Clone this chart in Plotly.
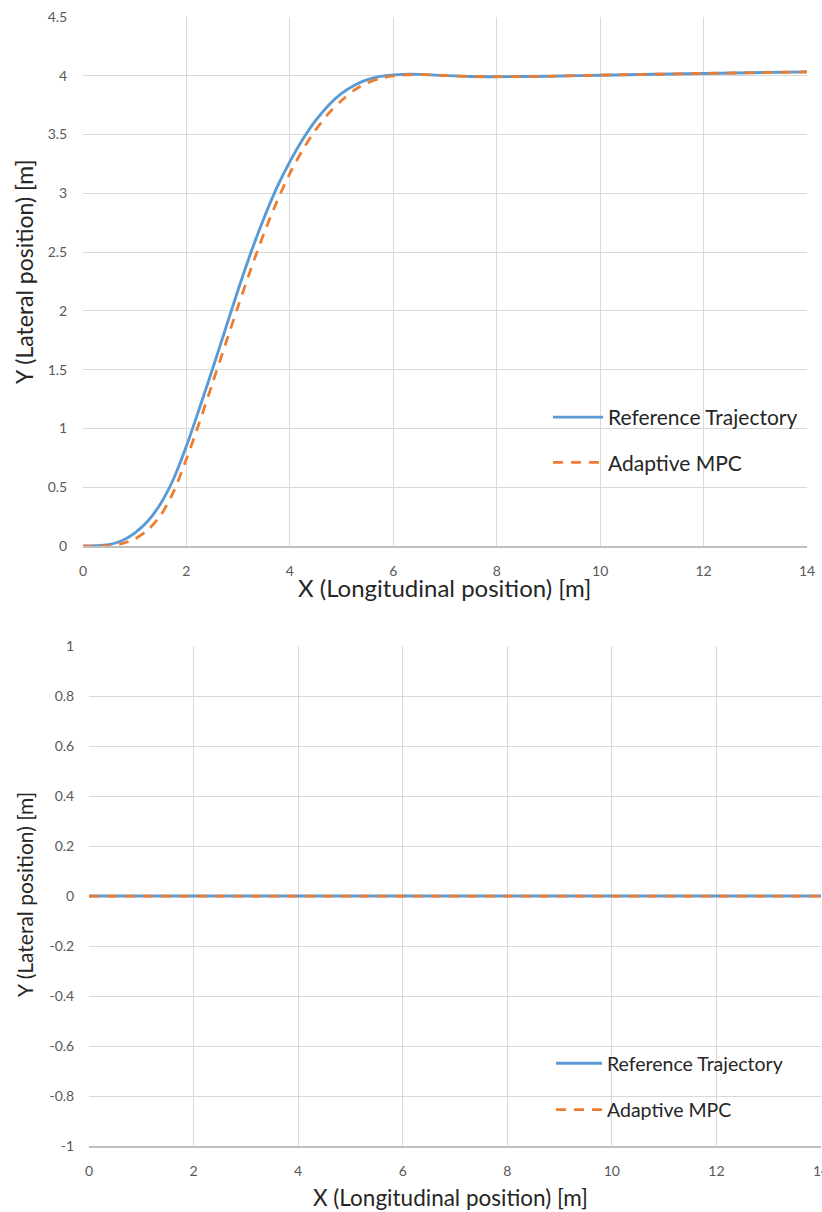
import plotly.graph_objects as go

# ---------------- data ----------------
# Top chart: lane change manoeuvre
x_ref = [0, 0.25, 0.5, 0.75, 1.0, 1.25, 1.5, 1.75, 2.0, 2.25, 2.5, 2.75, 3.0, 3.25,
         3.5, 3.75, 4.0, 4.25, 4.5, 4.75, 5.0, 5.25, 5.5, 5.75, 6.0, 6.5, 7.0, 7.5,
         8.0, 9.0, 10.0, 12.0, 14.0]
y_ref = [0, 0.002, 0.012, 0.045, 0.11, 0.21, 0.36, 0.57, 0.85, 1.17, 1.5, 1.84, 2.18, 2.5,
         2.79, 3.05, 3.27, 3.46, 3.62, 3.75, 3.85, 3.92, 3.967, 3.995, 4.008, 4.012, 4.002, 3.994,
         3.992, 3.996, 4.005, 4.02, 4.033]

x_mpc = [0, 0.25, 0.5, 0.75, 1.0, 1.25, 1.5, 1.75, 2.0, 2.25, 2.5, 2.75, 3.0, 3.25,
         3.5, 3.75, 4.0, 4.25, 4.5, 4.75, 5.0, 5.25, 5.5, 5.75, 6.0, 6.5, 7.0, 7.5,
         8.0, 9.0, 10.0, 12.0, 14.0]
y_mpc = [0, 0.0, 0.004, 0.02, 0.06, 0.135, 0.26, 0.46, 0.74, 1.05, 1.38, 1.71, 2.04, 2.36,
         2.66, 2.93, 3.17, 3.37, 3.54, 3.68, 3.79, 3.88, 3.94, 3.978, 3.998, 4.012, 4.002, 3.994,
         3.992, 3.996, 4.005, 4.02, 4.033]

# Bottom chart: straight driving
x_straight = [0, 2, 4, 6, 8, 10, 12, 14]
y_ref_straight = [0, 0, 0, 0, 0, 0, 0, 0]
y_mpc_straight = [0, 0, 0, 0, 0, 0, 0, 0]

y2_tickvals = [1, 0.8, 0.6, 0.4, 0.2, 0, -0.2, -0.4, -0.6, -0.8, -1]
y2_ticktext = ["1", "0.8", "0.6", "0.4", "0.2", "0", "-0.2", "-0.4", "-0.6", "-0.8", "-1"]

names = ["Reference Trajectory", "Adaptive MPC"]
x_title = "X (Longitudinal position) [m]"
y_title = "Y (Lateral position) [m]"

# ---------------- style ----------------
W, H = 822, 1212
BLUE = "#5B9BD5"
ORANGE = "#ED7D31"
GRID = "#D9D9D9"
TICK = "#595959"
TEXT = "#262626"
FONT = "Lato"
DASH = "10px,8px"

fig = go.Figure()

fig.add_trace(go.Scatter(x=x_ref, y=y_ref, mode="lines", name=names[0],
                         line=dict(color=BLUE, width=2.9, shape="spline", smoothing=0.8),
                         xaxis="x", yaxis="y", legend="legend", legendgroup="a"))
fig.add_trace(go.Scatter(x=x_mpc, y=y_mpc, mode="lines", name=names[1],
                         line=dict(color=ORANGE, width=2.75, dash=DASH, shape="spline", smoothing=0.8),
                         xaxis="x", yaxis="y", legend="legend", legendgroup="b"))
fig.add_trace(go.Scatter(x=x_straight, y=y_ref_straight, mode="lines", name=names[0],
                         line=dict(color=BLUE, width=2.9),
                         xaxis="x2", yaxis="y2", legend="legend2", legendgroup="c"))
fig.add_trace(go.Scatter(x=x_straight, y=y_mpc_straight, mode="lines", name=names[1],
                         line=dict(color=ORANGE, width=2.75, dash=DASH),
                         xaxis="x2", yaxis="y2", legend="legend2", legendgroup="d"))


def px_x(p):
    return p / W


def px_y(p):
    return 1 - p / H


axis_common = dict(showgrid=True, gridcolor=GRID, gridwidth=1, zeroline=False,
                   automargin=False, ticklabeloverflow="allow",
                   tickfont=dict(family=FONT, size=14, color=TICK),
                   ticks="outside", tickcolor="rgba(0,0,0,0)", fixedrange=True)

fig.update_layout(
    width=W, height=H,
    margin=dict(l=0, r=0, t=0, b=0, autoexpand=False),
    paper_bgcolor="white", plot_bgcolor="white",
    font=dict(family=FONT, color=TEXT),
    xaxis=dict(domain=[px_x(83), px_x(807)], range=[0, 14], dtick=2, anchor="y",
               showline=True, linecolor="#BFBFBF", linewidth=1.5, ticklen=11, **axis_common),
    yaxis=dict(domain=[px_y(546), px_y(17)], range=[0, 4.5], dtick=0.5, anchor="x",
               showline=False, ticklen=12, **axis_common),
    xaxis2=dict(domain=[px_x(89), px_x(821)], range=[0, 14], dtick=2, anchor="y2",
                showline=True, linecolor="#BFBFBF", linewidth=1.5, ticklen=11, **axis_common),
    yaxis2=dict(domain=[px_y(1146), px_y(646)], range=[-1, 1], anchor="x2",
                tickvals=y2_tickvals, ticktext=y2_ticktext,
                showline=False, ticklen=11, **axis_common),
    legend=dict(x=px_x(548), y=px_y(397), xanchor="left", yanchor="top",
                bgcolor="rgba(0,0,0,0)", itemwidth=50, tracegroupgap=15,
                font=dict(family=FONT, size=21, color=TEXT)),
    legend2=dict(x=px_x(551), y=px_y(1044), xanchor="left", yanchor="top",
                 bgcolor="rgba(0,0,0,0)", itemwidth=46, tracegroupgap=18,
                 font=dict(family=FONT, size=19.5, color=TEXT)),
    annotations=[
        dict(text=x_title, xref="paper", yref="paper",
             x=px_x(445), y=px_y(587), showarrow=False, xanchor="center", yanchor="middle",
             font=dict(family=FONT, size=24, color=TEXT)),
        dict(text=y_title, xref="paper", yref="paper",
             x=px_x(24), y=px_y(272), showarrow=False, xanchor="center", yanchor="middle",
             textangle=-90, font=dict(family=FONT, size=23, color=TEXT)),
        dict(text=x_title, xref="paper", yref="paper",
             x=px_x(450), y=px_y(1197), showarrow=False, xanchor="center", yanchor="middle",
             font=dict(family=FONT, size=22.5, color=TEXT)),
        dict(text=y_title, xref="paper", yref="paper",
             x=px_x(24), y=px_y(895), showarrow=False, xanchor="center", yanchor="middle",
             textangle=-90, font=dict(family=FONT, size=21, color=TEXT)),
    ],
)

fig.write_html("out.html",
               post_script="document.body.style.margin='0';document.body.style.overflow='hidden';")
